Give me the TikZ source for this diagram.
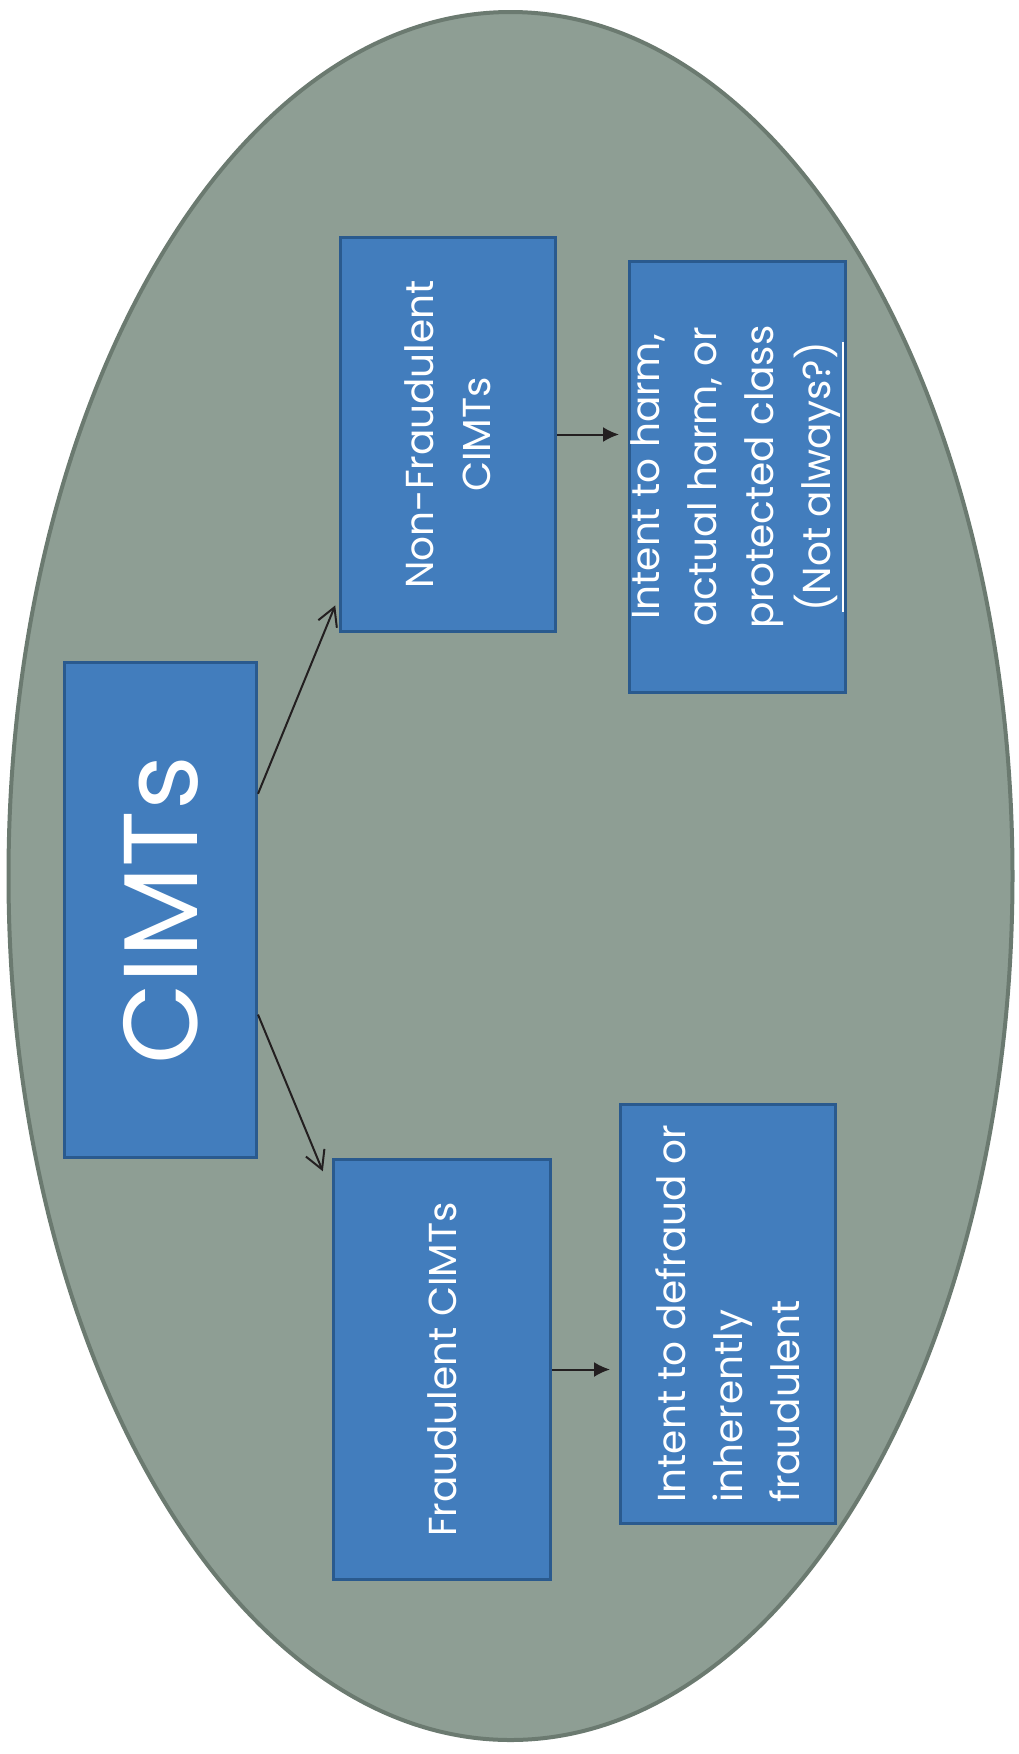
\documentclass[tikz,border=0pt]{standalone}
\usepackage{fontspec}
\setmainfont{Poppins}
\usetikzlibrary{arrows.meta}
\definecolor{ovalfill}{HTML}{8E9E94}
\definecolor{ovalline}{HTML}{6B7A70}
\definecolor{boxfill}{HTML}{427DBD}
\definecolor{boxline}{HTML}{2A5A8E}
\definecolor{arrowc}{HTML}{231F20}
\newcommand\bx{\fontsize{39}{57}\selectfont}
\newcommand\cim{\fontsize{105}{120}\selectfont}
\newcommand\ul[1]{\leavevmode\vtop{\hbox{#1}\kern1pt\hrule height 2pt}}

\begin{document}
\begin{tikzpicture} [x = 1pt, y = -1pt,
  cbox/.style = {draw=boxline, fill=boxfill, line width=3pt, rotate=90, text=white, inner sep =0pt, font=\bx},
  lnk/.style = {draw=arrowc, line width=2pt, -{Straight Barb[length=18pt, width=20pt]}},
  flow/.style = {draw=arrowc, line width=2pt, -{Latex[length=16pt, width=15pt]}}]
\useasboundingbox (0,0) rectangle (1018,1754);
\filldraw [fill=ovalfill, draw=ovalline, line width=4pt] (510.5,876) ellipse (502pt and 864pt);
\node[cbox, minimum width =495pt, minimum height =192pt, font=\cim] (cimts) at (160.5,910) {CIMTs};
\node[cbox, minimum width =394pt, minimum height =215pt, align=center] (nonfraud) at (448,434.5) {Non-Fraudulent\\CIMTs};
\node[cbox, minimum width =431pt, minimum height =216pt, align=center] (harm) at (737.5,477) {Intent to harm,\\actual harm, or\\protected class\\\ul{(Not always?)}};
\node[cbox, minimum width =420pt, minimum height =217pt] (fraud) at (442,1369.5) {Fraudulent CIMTs};
\node[cbox, minimum width =419pt, minimum height =215pt, align=left] (defraud) at (728,1314) {Intent to defraud or\\inherently\\fraudulent};
\draw [lnk, shorten >=10pt] (cimts.-40) -- (nonfraud.146);
\draw [lnk, shorten >=24pt] (cimts.223) -- (fraud.32);
\draw [flow, shorten >=9pt] (nonfraud.south) -- (nonfraud.south -| harm.north);
\draw [flow, shorten >=9pt] (fraud.south) -- (fraud.south -| defraud.north);
\end{tikzpicture}
\end{document}
